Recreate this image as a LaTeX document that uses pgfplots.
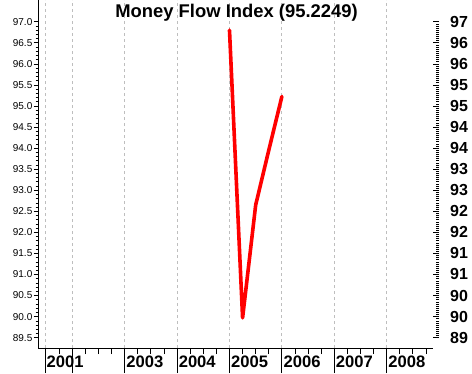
\documentclass[border=0pt]{standalone}
\usepackage{pgfplots}
\pgfplotsset{compat=1.18}
\usepackage{fontspec}
\setmainfont{Liberation Sans}
\definecolor{gridgray}{RGB}{190,190,190}
\begin{document}
\begin{tikzpicture}
\path[use as bounding box] (0,0) rectangle (472pt,373pt);
% main axis: data, x axis, grid
\begin{axis}[
  at={(38.5pt,25pt)}, anchor=south west,
  scale only axis, width=394.5pt, height=348pt,
  xmin=2001.355, xmax=2008.884, ymin=89.255, ymax=97.515,
  axis x line*=bottom, axis y line=none,
  xtick={2001.48,2002,2003,2004,2005,2006,2007,2008},
  xticklabels={2001,,2003,2004,2005,2006,2007,2008},
  minor xtick={2001.75,2002.25,2002.5,2002.75,2003.25,2003.5,2003.75,2004.25,2004.5,2004.75,2005.25,2005.5,2005.75,2006.25,2006.5,2006.75,2007.25,2007.5,2007.75,2008.25,2008.5,2008.75},
  tick align=outside, major tick length=25pt, minor tick length=6pt,
  xtick pos=bottom,
  xmajorgrids, major grid style={gridgray, dash pattern=on 3pt off 3pt, line width=0.8pt},
  xticklabel style={font=\fontsize{16.6}{18}\selectfont\bfseries, anchor=base west, inner sep=0pt, xshift=1.5pt, yshift=5.5pt},
  axis line style={line width=0.8pt},
  tick style={line width=0.8pt, black},
  clip=false,
]
\addplot[red, line width=3.6pt, line join=round, line cap=round] coordinates {
  (2005.00,96.80)
  (2005.25,89.97)
  (2005.50,92.65)
  (2005.75,93.95)
  (2006.00,95.2249)
};
\node[font=\fontsize{18.4}{20}\selectfont\bfseries, anchor=center] at (rel axis cs:0.502,0.9626) {Money Flow Index (95.2249)};
\end{axis}
% left y axis
\begin{axis}[
  at={(38.5pt,25pt)}, anchor=south west,
  scale only axis, width=394.5pt, height=348pt,
  xmin=2001.355, xmax=2008.884, ymin=89.255, ymax=97.515,
  axis x line=none, axis y line*=left,
  ytick={89.5,90,90.5,91,91.5,92,92.5,93,93.5,94,94.5,95,95.5,96,96.5,97},
  yticklabels={89.5,90.0,90.5,91.0,91.5,92.0,92.5,93.0,93.5,94.0,94.5,95.0,95.5,96.0,96.5,97.0},
  minor y tick num=4,
  tick align=outside, major tick length=5pt, minor tick length=3pt,
  ytick pos=left,
  yticklabel style={font=\fontsize{10}{11}\selectfont, inner sep=1pt},
  axis line style={line width=0.8pt},
  tick style={line width=0.6pt, black},
]
\end{axis}
% right y axis
\begin{axis}[
  at={(38.5pt,25pt)}, anchor=south west,
  scale only axis, width=400.5pt, height=348pt,
  xmin=0, xmax=1, ymin=89.255, ymax=97.515,
  axis x line=none, axis y line*=right,
  axis line style={draw=none},
  ytick={89.5,90,90.5,91,91.5,92,92.5,93,93.5,94,94.5,95,95.5,96,96.5,97},
  yticklabels={89,90,90,91,91,92,92,93,93,94,94,95,95,96,96,97},
  minor y tick num=9,
  tick align=inside, major tick length=6pt, minor tick length=3pt,
  ytick pos=right,
  yticklabel style={font=\fontsize{16}{18}\selectfont\bfseries, anchor=west, inner sep=0pt, xshift=11pt},
  tick style={line width=0.6pt, black},
]
\end{axis}
\end{tikzpicture}
\end{document}
